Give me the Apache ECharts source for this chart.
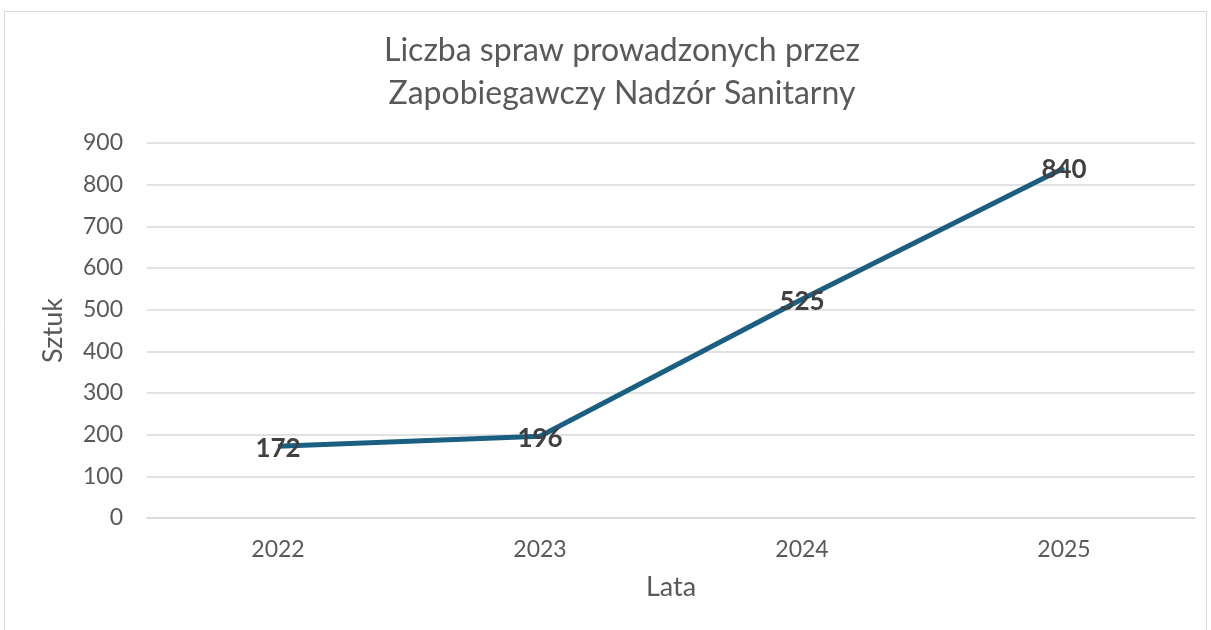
<!DOCTYPE html>
<html>
<head>
<meta charset="utf-8">
<script src="https://cdn.jsdelivr.net/npm/echarts@6/dist/echarts.min.js"></script>
<style>
  html, body { margin: 0; padding: 0; background: #fff; }
  #chart { width: 1211px; height: 630px; }
</style>
</head>
<body>
<div id="chart"></div>
<script>
const years = ['2022', '2023', '2024', '2025']
const cases = [172, 196, 525, 840]

const font = 'Lato, "Open Sans", sans-serif'
const chart = echarts.init(document.getElementById('chart'))

chart.setOption({
  animation: false,
  graphic: [{
    type: 'rect',
    shape: { x: 4.5, y: 11.5, width: 1202, height: 640 },
    style: { fill: 'none', stroke: '#d9d9d9', lineWidth: 1 },
    silent: true
  }],
  title: {
    text: 'Liczba spraw prowadzonych przez\nZapobiegawczy Nadzór Sanitarny',
    left: 617,
    textAlign: 'center',
    top: 24,
    textStyle: { fontFamily: font, fontSize: 32, fontWeight: 'normal', color: '#595959', lineHeight: 43 }
  },
  grid: { left: 147, right: 16, top: 143, bottom: 112, containLabel: false },
  xAxis: {
    type: 'category',
    data: years,
    boundaryGap: true,
    name: 'Lata',
    nameLocation: 'middle',
    nameGap: 56,
    nameTextStyle: { fontFamily: font, fontSize: 27, color: '#595959' },
    axisLine: { lineStyle: { color: '#d9d9d9', width: 1.5 } },
    axisTick: { show: false },
    axisLabel: { fontFamily: font, fontSize: 23, color: '#595959', margin: 20 }
  },
  yAxis: {
    type: 'value',
    min: 0,
    max: 900,
    interval: 100,
    name: 'Sztuk',
    nameLocation: 'middle',
    nameGap: 80,
    nameTextStyle: { fontFamily: font, fontSize: 27, color: '#595959' },
    axisLine: { show: false },
    axisTick: { show: false },
    axisLabel: { fontFamily: font, fontSize: 23, color: '#595959', margin: 24 },
    splitLine: { lineStyle: { color: '#d9d9d9', width: 1.5 } }
  },
  series: [{
    type: 'line',
    data: cases,
    symbol: 'circle',
    symbolSize: 1,
    showSymbol: true,
    itemStyle: { color: '#1a5f82' },
    lineStyle: { color: '#1a5f82', width: 5 },
    label: {
      show: true,
      position: 'inside',
      offset: [0, 2],
      fontFamily: font,
      fontSize: 26,
      fontWeight: 'bold',
      color: '#404040'
    }
  }]
})
</script>
</body>
</html>
